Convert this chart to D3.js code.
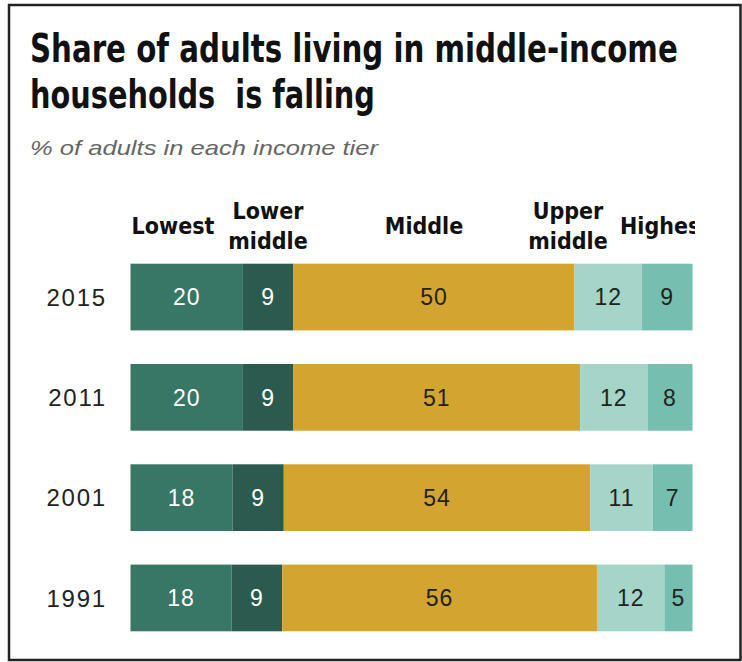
<!DOCTYPE html>
<html>
<head>
<meta charset="utf-8">
<script src="https://cdn.jsdelivr.net/npm/d3@7"></script>
<style>
  html, body { margin: 0; padding: 0; background: #fff; }
  svg { display: block; }
</style>
</head>
<body>
<svg id="chart" width="742" height="662"></svg>
<script>
// ---- data ----
const years = ["2015", "2011", "2001", "1991"];
const tiers = ["Lowest", "Lower middle", "Middle", "Upper middle", "Highest"];
const lowest      = [20, 20, 18, 18];
const lowerMiddle = [9, 9, 9, 9];
const middle      = [50, 51, 54, 56];
const upperMiddle = [12, 12, 11, 12];
const highest     = [9, 8, 7, 5];
const titleLines = ["Share of adults living in middle-income", "households\u00a0 is falling"];
const subtitle = "% of adults in each income tier";

// ---- build table ----
const seriesArrays = [lowest, lowerMiddle, middle, upperMiddle, highest];
const rows = years.map((y, i) => {
  const r = { year: y };
  tiers.forEach((t, k) => { r[t] = seriesArrays[k][i]; });
  return r;
});

const colors = ["#387666", "#2b5a4f", "#d3a530", "#a5d4c8", "#76bfb0"];
const textColors = ["#ffffff", "#ffffff", "#222222", "#222222", "#222222"];

const svg = d3.select("#chart");

// frame
svg.append("rect")
  .attr("x", 9).attr("y", 5).attr("width", 731.5).attr("height", 655)
  .attr("fill", "none").attr("stroke", "#222").attr("stroke-width", 2.5);

// title (condensed horizontally to the reference line widths)
const titleWidths = [648, 345];
titleLines.forEach((line, i) => {
  const tg = svg.append("g");
  const t = tg.append("text")
    .attr("x", 0).attr("y", 62 + i * 46)
    .attr("font-family", "'DejaVu Sans Condensed', 'DejaVu Sans', sans-serif")
    .attr("font-weight", "bold")
    .attr("font-size", 39).attr("fill", "#111")
    .text(line);
  const w = t.node().getComputedTextLength();
  tg.attr("transform", `translate(30,0) scale(${titleWidths[i] / w},1)`);
});

svg.append("text")
  .attr("x", 30).attr("y", 155)
  .attr("font-family", "'Liberation Sans', Arial, sans-serif")
  .attr("font-style", "italic").attr("font-size", 21).attr("fill", "#666")
  .attr("textLength", 348).attr("lengthAdjust", "spacingAndGlyphs")
  .text(subtitle);

// scales
const x = d3.scaleLinear().domain([0, 1]).range([130.5, 692.5]);
const y = d3.scaleBand().domain(years).range([246.9, 648.1]).paddingInner(0.335).paddingOuter(0.1675);

const stack = d3.stack().keys(tiers).offset(d3.stackOffsetExpand);
const stacked = stack(rows);

const g = svg.append("g");
const layers = g.selectAll("g.layer").data(stacked).join("g")
  .attr("class", "layer")
  .attr("fill", (d, i) => colors[i]);

layers.selectAll("rect").data(d => d).join("rect")
  .attr("x", d => x(d[0]))
  .attr("width", d => x(d[1]) - x(d[0]))
  .attr("y", d => y(d.data.year))
  .attr("height", y.bandwidth());

// value labels
const labelFont = "'Liberation Sans', Arial, sans-serif";
stacked.forEach((layer, k) => {
  g.append("g").selectAll("text").data(layer).join("text")
    .attr("x", d => (x(d[0]) + x(d[1])) / 2)
    .attr("y", d => y(d.data.year) + y.bandwidth() / 2)
    .attr("dy", "0.36em")
    .attr("text-anchor", "middle")
    .attr("font-family", labelFont).attr("font-size", 23)
    .attr("letter-spacing", 1)
    .attr("fill", textColors[k])
    .text(d => d.data[layer.key]);
});

// year axis labels
const yAxis = d3.axisLeft(y).tickSize(0).tickPadding(0);
const ya = svg.append("g").attr("transform", "translate(107,0)").call(yAxis);
ya.select(".domain").remove();
ya.selectAll("text")
  .attr("font-family", labelFont).attr("font-size", 24)
  .attr("letter-spacing", 1.8)
  .attr("fill", "#222").attr("dy", "0.36em");

// header labels (tier names)
const headerPos = [
  { cx: 173, anchor: "middle" },
  { cx: 268, anchor: "middle" },
  { cx: 424, anchor: "middle" },
  { cx: 568, anchor: "middle" },
  { cx: 620, anchor: "start" }
];
svg.append("clipPath").attr("id", "hclip")
  .append("rect").attr("x", 0).attr("y", 0).attr("width", 695).attr("height", 662);
const hg = svg.append("g").attr("clip-path", "url(#hclip)");
const headFont = "'DejaVu Sans Condensed', 'DejaVu Sans', sans-serif";
tiers.forEach((t, k) => {
  const words = t.split(" ");
  const lines = words.length > 1 ? words : [t];
  const cy = 226;
  const lh = 30;
  const t0 = hg.append("text")
    .attr("text-anchor", headerPos[k].anchor)
    .attr("font-family", headFont).attr("font-weight", "bold")
    .attr("font-size", 23).attr("fill", "#111");
  lines.forEach((ln, j) => {
    t0.append("tspan")
      .attr("x", headerPos[k].cx)
      .attr("y", cy + (j - (lines.length - 1) / 2) * lh)
      .attr("dy", "0.36em")
      .text(ln);
  });
});
</script>
</body>
</html>
